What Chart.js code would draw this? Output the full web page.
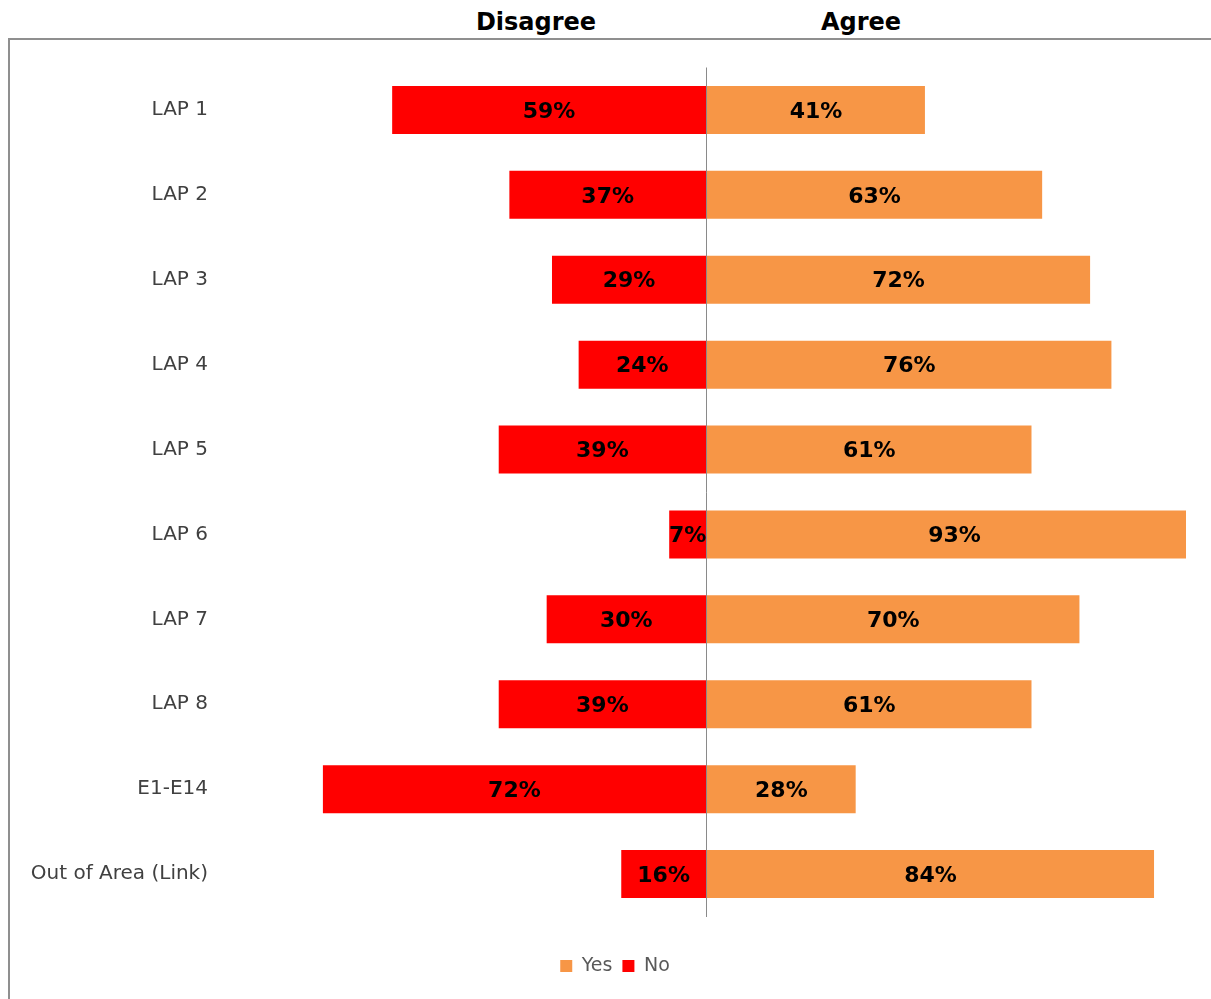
<!DOCTYPE html>
<html>
<head>
<meta charset="utf-8">
<script src="https://cdn.jsdelivr.net/npm/chart.js@4.4.1/dist/chart.umd.min.js"></script>
<style>
  html, body { margin: 0; padding: 0; background: #ffffff; }
  #wrap { position: relative; width: 1211px; height: 999px; overflow: hidden; }
  #frame { position: absolute; left: 8px; top: 38px; width: 1300px; height: 1100px;
           border-left: 2px solid #8f8f8f; border-top: 2px solid #8f8f8f; box-sizing: border-box; }
  .head { position: absolute; top: 8px; font-family: "DejaVu Sans", sans-serif; font-weight: bold;
          font-size: 24px; line-height: 28px; color: #000; transform: translateX(-50%); white-space: nowrap; }
  canvas { position: absolute; left: 0; top: 0; }
</style>
</head>
<body>
<div id="wrap">
  <div id="frame"></div>
  <div class="head" style="left:536px">Disagree</div>
  <div class="head" style="left:861px">Agree</div>
  <canvas id="c" width="1211" height="999"></canvas>
</div>
<script>
const categories = ["LAP 1", "LAP 2", "LAP 3", "LAP 4", "LAP 5", "LAP 6", "LAP 7", "LAP 8", "E1-E14", "Out of Area (Link)"];
const yesValues = [41, 63, 72, 76, 61, 93, 70, 61, 28, 84];
const noValues = [59, 37, 29, 24, 39, 7, 30, 39, 72, 16];
const seriesNames = ["Yes", "No"];

const labelPlugin = {
  id: 'barLabels',
  afterLayout(chart) {
    const L = chart.legend;
    if (L) { L.left += 17; L.right += 17; }
  },
  afterDatasetsDraw(chart) {
    const ctx = chart.ctx;
    ctx.save();
    ctx.font = 'bold 22px "DejaVu Sans", sans-serif';
    ctx.fillStyle = '#000000';
    ctx.textAlign = 'center';
    ctx.textBaseline = 'middle';
    chart.data.datasets.forEach((ds, di) => {
      const meta = chart.getDatasetMeta(di);
      meta.data.forEach((el, i) => {
        const v = Math.abs(ds.data[i]);
        const cx = (el.x + el.base) / 2;
        ctx.fillText(v + '%', cx, el.y + 2);
      });
    });
    ctx.restore();
  }
};

new Chart(document.getElementById('c'), {
  type: 'bar',
  data: {
    labels: categories,
    datasets: [
      { label: seriesNames[0], data: yesValues, backgroundColor: '#F79646', borderWidth: 0 },
      { label: seriesNames[1], data: noValues.map(v => -v), backgroundColor: '#FF0000', borderWidth: 0 }
    ]
  },
  options: {
    indexAxis: 'y',
    responsive: false,
    animation: false,
    layout: { padding: { left: 10, right: 25, top: 67.5, bottom: 13.5 } },
    scales: {
      x: {
        stacked: true, min: -90, max: 90, z: 1,
        ticks: { display: false, stepSize: 10 },
        border: { display: false },
        grid: {
          drawTicks: false,
          color: (c) => (c.tick && c.tick.value === 0) ? '#8a8a8a' : 'rgba(0,0,0,0)',
          lineWidth: 1
        },
        afterFit(s) { s.height = 30; }
      },
      y: {
        stacked: true,
        grid: { display: false, drawTicks: false },
        border: { display: false },
        ticks: { padding: 19, color: '#404040', font: { family: '"DejaVu Sans", sans-serif', size: 20 } },
        afterFit(s) { s.width = 217; }
      }
    },
    datasets: { bar: { categoryPercentage: 0.565, barPercentage: 1 } },
    plugins: {
      legend: {
        position: 'bottom',
        labels: { boxWidth: 12, boxHeight: 12, padding: 10, color: '#595959',
                  font: { family: '"DejaVu Sans", sans-serif', size: 19 } }
      },
      tooltip: { enabled: false }
    }
  },
  plugins: [labelPlugin]
});
</script>
</body>
</html>
